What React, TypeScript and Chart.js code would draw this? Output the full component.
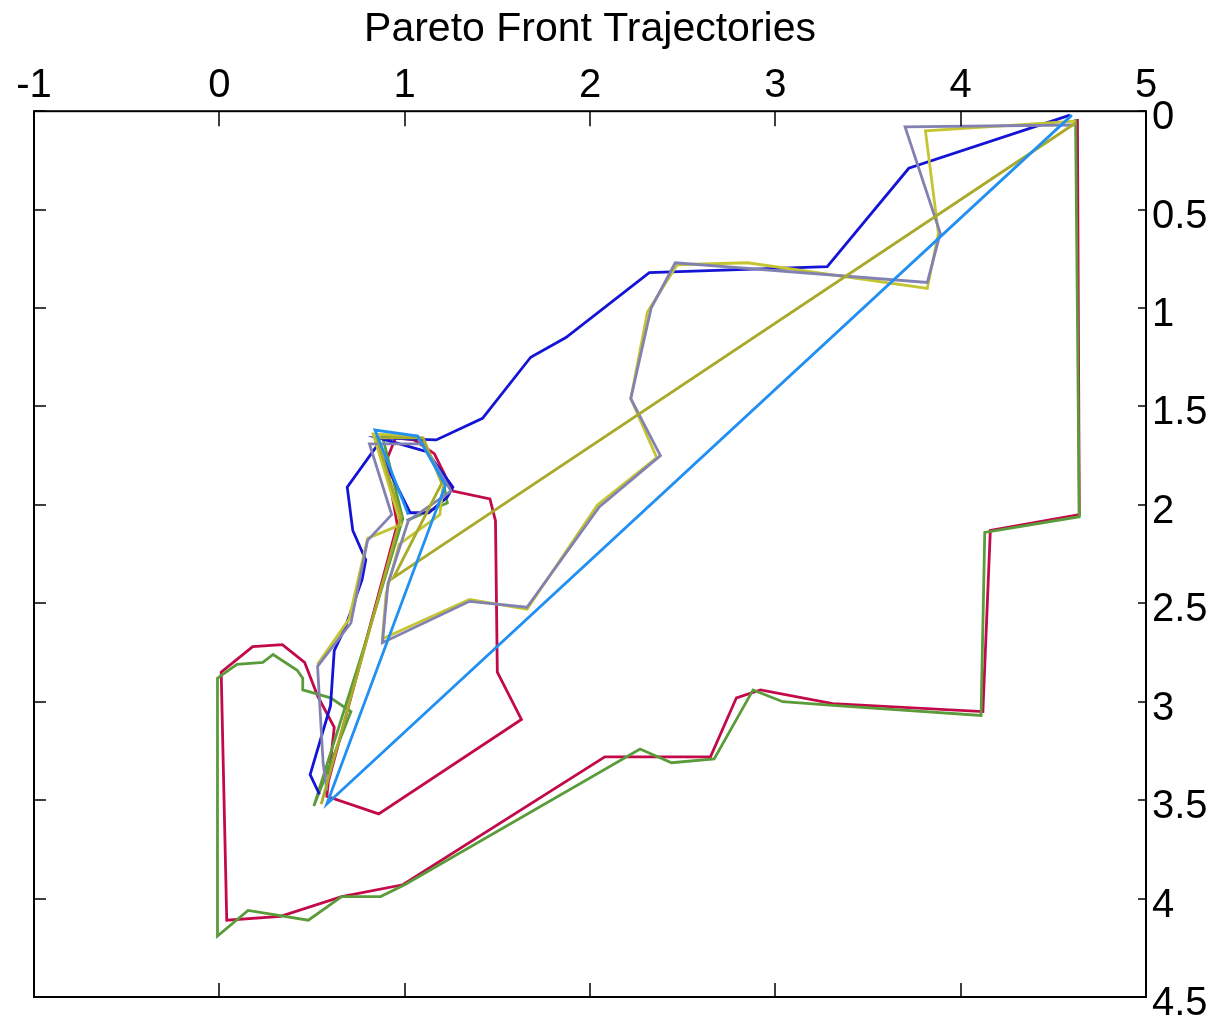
import React, { useEffect, useRef } from 'react';
import { Chart, registerables } from 'chart.js';

Chart.register(...registerables);

const FONT = "'Liberation Sans', Arial, Helvetica, sans-serif";

const chartTitle = 'Pareto Front Trajectories';
const xTicks = [-1, 0, 1, 2, 3, 4, 5];
const yTicks = [0, 0.5, 1, 1.5, 2, 2.5, 3, 3.5, 4, 4.5];

const redX = [4.63, 4.64, 4.16, 4.12, 3.31, 2.92, 2.79, 2.65, 2.08, 0.99, 0.66, 0.33, 0.04, 0.01, 0.18, 0.34, 0.46, 0.53, 0.62, 0.58, 0.86, 1.63, 1.50, 1.49, 1.46, 1.26, 1.16, 1.05, 0.95, 0.90, 0.96, 0.57];
const redY = [0.04, 2.05, 2.13, 3.05, 3.01, 2.94, 2.98, 3.28, 3.28, 3.93, 3.99, 4.09, 4.11, 2.85, 2.72, 2.71, 2.80, 2.97, 3.13, 3.48, 3.57, 3.09, 2.85, 2.08, 1.97, 1.93, 1.74, 1.67, 1.66, 1.78, 2.10, 3.47];

const greenX = [4.62, 4.64, 4.13, 4.11, 3.33, 3.04, 2.88, 2.67, 2.44, 2.27, 1.00, 0.87, 0.66, 0.48, 0.155, -0.01, -0.01, 0.095, 0.235, 0.29, 0.42, 0.45, 0.45, 0.60, 0.71, 0.51, 0.775, 0.99, 0.88, 1.09, 1.21, 1.23, 1.01];
const greenY = [0.04, 2.06, 2.14, 3.07, 3.02, 3.00, 2.94, 3.29, 3.31, 3.24, 3.93, 3.99, 3.99, 4.11, 4.06, 4.19, 2.88, 2.81, 2.80, 2.76, 2.84, 2.88, 2.94, 2.98, 3.05, 3.53, 2.74, 2.07, 1.65, 1.66, 1.89, 1.99, 2.08];

const blueX = [4.59, 3.72, 3.28, 2.32, 1.87, 1.68, 1.42, 1.17, 0.86, 1.12, 1.26, 1.23, 1.13, 1.03, 0.85, 0.69, 0.72, 0.79, 0.77, 0.68, 0.62, 0.60, 0.49, 0.54];
const blueY = [0.02, 0.29, 0.79, 0.82, 1.15, 1.25, 1.56, 1.67, 1.66, 1.73, 1.91, 1.96, 2.04, 2.04, 1.70, 1.91, 2.13, 2.28, 2.38, 2.62, 2.74, 3.02, 3.37, 3.47];

const yellowX = [4.62, 3.81, 3.88, 3.82, 2.85, 2.47, 2.31, 2.22, 2.36, 2.04, 1.66, 1.35, 0.88, 0.90, 0.97, 1.19, 1.21, 1.07, 0.83, 0.98, 0.80, 0.70, 0.53];
const yellowY = [0.05, 0.10, 0.62, 0.90, 0.77, 0.78, 1.02, 1.46, 1.76, 2.00, 2.53, 2.48, 2.68, 2.45, 2.20, 2.05, 1.88, 1.65, 1.64, 2.10, 2.17, 2.58, 2.81];

const grayX = [4.61, 3.70, 3.89, 3.82, 2.46, 2.33, 2.22, 2.38, 2.05, 1.66, 1.35, 0.88, 0.91, 1.02, 1.25, 1.10, 0.81, 0.93, 0.80, 0.71, 0.53, 0.56, 0.58];
const grayY = [0.07, 0.08, 0.62, 0.87, 0.77, 1.00, 1.46, 1.75, 2.01, 2.52, 2.49, 2.70, 2.40, 2.08, 1.93, 1.69, 1.69, 2.05, 2.18, 2.60, 2.82, 3.31, 3.45];

const oliveX = [4.62, 0.94, 1.20, 1.10, 0.85, 0.98, 0.55];
const oliveY = [0.06, 2.37, 1.89, 1.66, 1.66, 2.06, 3.52];

const lightBlueX = [4.60, 0.58, 1.22, 1.07, 0.84, 1.02];
const lightBlueY = [0.02, 3.52, 1.90, 1.65, 1.62, 2.05];

// first entry is drawn on top
const seriesList = [
  { name: 'T7', xs: lightBlueX, ys: lightBlueY, color: '#2190f2' },
  { name: 'T6', xs: oliveX, ys: oliveY, color: '#a9a92a' },
  { name: 'T5', xs: grayX, ys: grayY, color: '#8282b2' },
  { name: 'T4', xs: yellowX, ys: yellowY, color: '#c5c532' },
  { name: 'T3', xs: blueX, ys: blueY, color: '#1414d6' },
  { name: 'T2', xs: greenX, ys: greenY, color: '#5a9b3a' },
  { name: 'T1', xs: redX, ys: redY, color: '#c20a4b' },
];

const fmt = (v: any) => String(Math.round(Number(v) * 100) / 100);

const framePlugin = {
  id: 'frameTicks',
  afterDraw(chart: any) {
    const ctx = chart.ctx;
    const a = chart.chartArea;
    const sx = chart.scales.x;
    const sy = chart.scales.y;
    ctx.save();
    ctx.strokeStyle = '#000';
    ctx.lineWidth = 1.5;
    for (const v of xTicks) {
      const px = Math.round(sx.getPixelForValue(v));
      ctx.beginPath();
      ctx.moveTo(px, a.top);
      ctx.lineTo(px, a.top + 15);
      ctx.moveTo(px, a.bottom);
      ctx.lineTo(px, a.bottom - 14);
      ctx.stroke();
    }
    for (const v of yTicks) {
      const py = Math.round(sy.getPixelForValue(v));
      ctx.beginPath();
      ctx.moveTo(a.left, py);
      ctx.lineTo(a.left + 12, py);
      ctx.moveTo(a.right, py);
      ctx.lineTo(a.right - 8, py);
      ctx.stroke();
    }
    ctx.lineWidth = 2;
    ctx.strokeRect(a.left, a.top, a.right - a.left, a.bottom - a.top);
    ctx.restore();
  },
};

export default function App() {
  const canvasRef = useRef<HTMLCanvasElement | null>(null);

  useEffect(() => {
    if (!canvasRef.current) return;
    const chart = new Chart(canvasRef.current, {
      type: 'line',
      data: {
        datasets: seriesList.map((s) => ({
          label: s.name,
          data: s.xs.map((x, i) => ({ x, y: s.ys[i] })),
          borderColor: s.color,
          backgroundColor: s.color,
          borderWidth: 2.8,
          pointRadius: 0,
          pointHoverRadius: 0,
          fill: false,
          tension: 0,
        })),
      },
      options: {
        animation: false,
        responsive: false,
        events: [],
        layout: { padding: { left: 34, right: 0, top: 0, bottom: 25 } },
        plugins: {
          legend: { display: false },
          tooltip: { enabled: false },
          title: {
            display: true,
            text: chartTitle,
            color: '#000',
            fullSize: false,
            font: { family: FONT, size: 41, weight: 'normal', lineHeight: 1.2 },
            padding: { top: 5, bottom: 0 },
          },
        },
        scales: {
          x: {
            type: 'linear',
            position: 'top',
            min: -1,
            max: 5,
            ticks: {
              stepSize: 1,
              color: '#000',
              font: { family: FONT, size: 40, lineHeight: 1.2 },
              padding: 1,
              maxRotation: 0,
              autoSkip: false,
              callback: fmt,
            },
            grid: { display: false, drawTicks: false },
            border: { display: false },
            afterFit: (s: any) => {
              s.height = 57;
              s.paddingLeft = 0;
              s.paddingRight = 0;
            },
          },
          y: {
            type: 'linear',
            position: 'right',
            reverse: true,
            min: 0,
            max: 4.5,
            ticks: {
              stepSize: 0.5,
              color: '#000',
              font: { family: FONT, size: 40, lineHeight: 1.2 },
              padding: 6,
              labelOffset: 7,
              autoSkip: false,
              callback: fmt,
            },
            grid: { display: false, drawTicks: false },
            border: { display: false },
            afterFit: (s: any) => {
              s.width = 86;
              s.paddingTop = 0;
              s.paddingBottom = 0;
            },
          },
        },
      },
      plugins: [framePlugin],
    } as any);
    return () => chart.destroy();
  }, []);

  return (
    <div style={{ position: 'absolute', left: 0, top: 0, width: 1232, height: 1022, background: '#fff' }}>
      <canvas ref={canvasRef} width={1232} height={1022} style={{ display: 'block' }} />
    </div>
  );
}
